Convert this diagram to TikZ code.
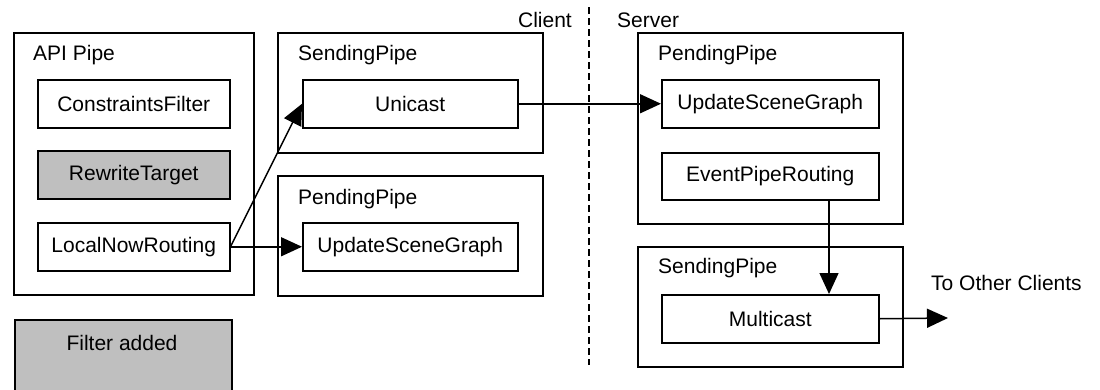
\documentclass[tikz,border=0pt]{standalone}
\usepackage{fontspec}
\setmainfont{Liberation Sans}
\usetikzlibrary{arrows.meta}
\begin{document}
\begin{tikzpicture}[x=1pt,y=-1pt,
  font=\fontsize{21}{24}\selectfont,
  box/.style={draw,line width=1.5pt,inner sep=0pt,anchor=north west},
  gbox/.style={box,fill=black!25},
  lbl/.style={anchor=west,inner sep=0pt},
  arr/.style={line width=1.5pt,-{Triangle[length=21pt,width=19pt]}}]
\useasboundingbox (0,0) rectangle (1100,389);
% containers
\node[box,minimum width=240pt,minimum height=262pt] (api) at (13,32) {};
\node[box,minimum width=265pt,minimum height=120pt] (csend) at (277,32) {};
\node[box,minimum width=265pt,minimum height=120pt] (cpend) at (277,175) {};
\node[box,minimum width=265pt,minimum height=191pt] (spend) at (637,32) {};
\node[box,minimum width=265pt,minimum height=120pt] (ssend) at (637,246) {};
% container labels
\node[lbl] (apil) at (33,55) {API Pipe};
\node[lbl] (csendl) at (298,55) {SendingPipe};
\node[lbl] (cpendl) at (298,199) {PendingPipe};
\node[lbl] (spendl) at (658,55) {PendingPipe};
\node[lbl] (ssendl) at (658,268) {SendingPipe};
% filters
\node[box,minimum width=192pt,minimum height=48pt] (cf) at (37,79) {};
\node at (cf.center) {ConstraintsFilter};
\node[gbox,minimum width=192pt,minimum height=48pt] (rt) at (37,150) {};
\node at (rt.center) {RewriteTarget};
\node[box,minimum width=192pt,minimum height=48pt] (lnr) at (37,222) {};
\node at (lnr.center) {LocalNowRouting};
\node[box,minimum width=215pt,minimum height=48pt] (uni) at (302,79) {};
\node at (uni.center) {Unicast};
\node[box,minimum width=215pt,minimum height=48pt] (cusg) at (302,222) {};
\node at (cusg.center) {UpdateSceneGraph};
\node[box,minimum width=217pt,minimum height=48pt] (susg) at (661,79) {};
\node at (susg.center) {UpdateSceneGraph};
\node[box,minimum width=217pt,minimum height=47pt] (epr) at (661,152) {};
\node at (epr.center) {EventPipeRouting};
\node[box,minimum width=217pt,minimum height=48pt] (mc) at (661,294) {};
\node at (mc.center) {Multicast};
% legend
\node[gbox,minimum width=217pt,minimum height=75pt] (legend) at (14,319) {};
\node (legendl) at (122,343) {Filter added};
% client/server
\node[anchor=east,inner sep=0pt] (client) at (572,20) {Client};
\node[anchor=west,inner sep=0pt] (server) at (617,20) {Server};
\coordinate (dtop) at (589,7);
\coordinate (dbot) at (589,365);
\draw[line width=1.2pt,dash pattern=on 7pt off 4pt] (dtop) -- (dbot);
% connectors
\coordinate (lnrout) at (lnr.east);
\draw[arr] (lnrout) -- (uni.west);
\draw[arr] (lnrout) -- (cusg.west);
\draw[arr] (uni.east) -- (susg.west);
\coordinate (eprb) at (829,199);
\coordinate (mct) at (829,294);
\draw[arr] (eprb) -- (mct);
\node[anchor=west,inner sep=0pt] (other) at (931,283) {To Other Clients};
\coordinate (oend) at (948,318);
\draw[arr] (mc.east) -- (oend);
\end{tikzpicture}
\end{document}
